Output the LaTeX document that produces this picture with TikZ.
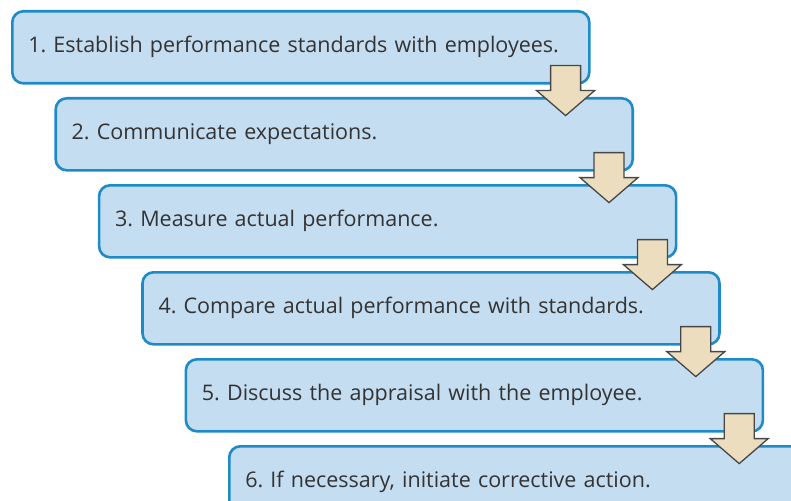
\documentclass[tikz,border=0pt]{standalone}
\usepackage{fontspec}
\setmainfont{Open Sans}
\usepackage{tikz}
\usetikzlibrary{positioning, calc}
\definecolor{boxfill}{HTML}{C5DDF1}
\definecolor{boxline}{HTML}{1E8BC9}
\definecolor{arrowfill}{HTML}{EBDDBD}
\definecolor{arrowline}{HTML}{474747}
\definecolor{textgray}{HTML}{333333}
\frenchspacing

\begin{document}
\begin{tikzpicture}[x=1pt, y=1pt,
  stepbox/.style={draw=boxline, fill=boxfill, line width=2.6pt, rounded corners=11pt,
    anchor=north west, minimum height=72pt, text width=545pt, inner xsep=16pt,
    align=left, text=textgray, font=\fontsize{21.5}{25}\selectfont},
  downarrow/.style={draw=arrowline, fill=arrowfill, line width=1.3pt, line join=miter}]
\useasboundingbox (0,0) rectangle (791,-500);
\clip (0,0) rectangle (791,-500);

% six steps, each one shifted right and down
\node[stepbox] (s1) at (11,-10) {1. Establish performance standards with employees.};
\node[stepbox, below right=12.4pt and 43.4pt of s1.south west] (s2) {2. Communicate expectations.};
\node[stepbox, below right=12.4pt and 43.4pt of s2.south west] (s3) {3. Measure actual performance.};
\node[stepbox, below right=12.4pt and 43.4pt of s3.south west] (s4) {4. Compare actual performance with standards.};
\node[stepbox, below right=12.4pt and 43.4pt of s4.south west] (s5) {5. Discuss the appraisal with the employee.};
\node[stepbox, below right=12.4pt and 43.4pt of s5.south west] (s6) {6. If necessary, initiate corrective action.};

% block arrows from each step down into the next
\draw[downarrow] ($(s1.south east)+(-40,19)$) -- ++(30,0) -- ++(0,-25) -- ++(14,0) -- ++(-29,-25) -- ++(-29,25) -- ++(14,0) -- cycle;
\draw[downarrow] ($(s2.south east)+(-40,19)$) -- ++(30,0) -- ++(0,-25) -- ++(14,0) -- ++(-29,-25) -- ++(-29,25) -- ++(14,0) -- cycle;
\draw[downarrow] ($(s3.south east)+(-40,19)$) -- ++(30,0) -- ++(0,-25) -- ++(14,0) -- ++(-29,-25) -- ++(-29,25) -- ++(14,0) -- cycle;
\draw[downarrow] ($(s4.south east)+(-40,19)$) -- ++(30,0) -- ++(0,-25) -- ++(14,0) -- ++(-29,-25) -- ++(-29,25) -- ++(14,0) -- cycle;
\draw[downarrow] ($(s5.south east)+(-40,19)$) -- ++(30,0) -- ++(0,-25) -- ++(14,0) -- ++(-29,-25) -- ++(-29,25) -- ++(14,0) -- cycle;
\end{tikzpicture}
\end{document}
